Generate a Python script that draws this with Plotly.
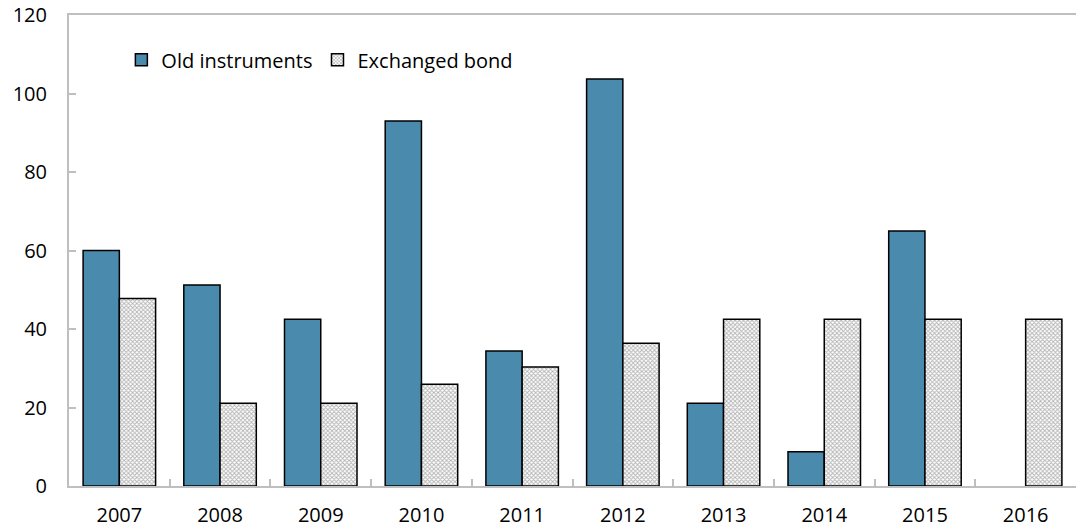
import plotly.graph_objects as go

years = ["2007", "2008", "2009", "2010", "2011", "2012", "2013", "2014", "2015", "2016"]
old_instruments = [60, 51.2, 42.5, 93, 34.4, 103.7, 21.1, 8.7, 65, None]
exchanged_bond = [47.8, 21.1, 21.1, 25.9, 30.3, 36.4, 42.5, 42.5, 42.5, 42.5]
y_ticks = [0, 20, 40, 60, 80, 100, 120]

font_family = "Open Sans, Noto Sans, sans-serif"

fig = go.Figure()
fig.add_trace(go.Bar(
    x=years, y=old_instruments, name="Old instruments",
    marker=dict(color="#4A8BAD", line=dict(color="#000000", width=1.5)),
))
fig.add_trace(go.Bar(
    x=years, y=exchanged_bond, name="Exchanged bond",
    marker=dict(color="#FFFFFF", line=dict(color="#000000", width=1.5),
                pattern=dict(shape="x", size=3, solidity=0.5,
                             fgcolor="#666666", bgcolor="#FFFFFF")),
))

fig.update_layout(
    width=1077, height=529,
    margin=dict(l=69, r=1, t=15, b=43),
    paper_bgcolor="white", plot_bgcolor="white",
    barmode="group", bargap=0.28, bargroupgap=0,
    font=dict(family=font_family, size=20, color="#000000"),
    showlegend=True,
    legend=dict(orientation="h", x=0.052, y=0.905, xanchor="left", yanchor="middle",
                bgcolor="rgba(0,0,0,0)", font=dict(size=20), itemwidth=30,
                traceorder="normal"),
    xaxis=dict(
        showline=True, linecolor="#BFBFBF", linewidth=2, mirror=True,
        ticks="inside", tickson="boundaries", ticklen=7, tickcolor="#BFBFBF", tickwidth=2,
        showgrid=False, tickfont=dict(size=20), ticklabelstandoff=10,
    ),
    yaxis=dict(
        range=[0, 120], tickvals=y_ticks,
        showline=True, linecolor="#BFBFBF", linewidth=2,
        ticks="inside", ticklen=7, tickcolor="#BFBFBF", tickwidth=2,
        showgrid=False, zeroline=False, tickfont=dict(size=20),
        ticklabelstandoff=16,
    ),
)

fig.write_html("out.html")
